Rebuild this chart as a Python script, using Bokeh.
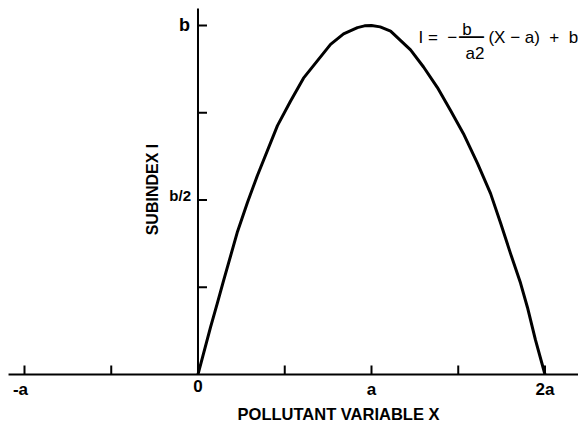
import math
from bokeh.plotting import figure
from bokeh.models import Label, Range1d
from bokeh.embed import file_html
from bokeh.resources import INLINE

# Curve (X in units of a, I in units of b)
curve_x = [0.0, 0.072, 0.112, 0.147, 0.228, 0.285, 0.343, 0.458, 0.533, 0.608,
           0.764, 0.839, 0.919, 0.960, 1.0, 1.050, 1.110, 1.225, 1.300, 1.380,
           1.455, 1.530, 1.611, 1.686, 1.744, 1.801, 1.859, 1.899, 1.945, 2.0]
curve_i = [0.0, 0.135, 0.205, 0.268, 0.410, 0.493, 0.571, 0.713, 0.783, 0.849,
           0.946, 0.976, 0.994, 0.999, 1.0, 0.996, 0.984, 0.930, 0.881, 0.822,
           0.757, 0.690, 0.605, 0.519, 0.434, 0.347, 0.262, 0.192, 0.099, 0.0]

x_ticks = [-1, -0.5, 0, 0.5, 1, 1.5, 2]
x_tick_labels = ["-a", "", "0", "", "a", "", "2a"]
y_ticks = [0.25, 0.5, 0.75, 1.0]
y_tick_labels = ["", "b/2", "", "b"]

# extent of the drawn axes
X_MIN, X_MAX = -1.092, 2.193
Y_MAX = 1.049

FONT = "Liberation Sans"
NB = "\u00a0"

p = figure(width=578, height=424, output_backend="svg", toolbar_location=None,
           x_range=Range1d(-1.1383, 2.1931), y_range=Range1d(-0.1433, 1.0716),
           x_axis_location=None, y_axis_location=None,
           min_border_left=0, min_border_right=0, min_border_top=0, min_border_bottom=0)
p.outline_line_color = None
p.grid.visible = False
p.background_fill_color = "white"
p.border_fill_color = "white"

# axes lines
p.segment(x0=[X_MIN, 0], y0=[0, 0], x1=[X_MAX, 0], y1=[0, Y_MAX],
          line_color="black", line_width=2)
# x ticks (pointing up) and y ticks (pointing right)
p.ray(x=x_ticks, y=[0] * len(x_ticks), length=9, length_units="screen",
      angle=math.pi / 2, line_color="black", line_width=2)
p.ray(x=[0] * len(y_ticks), y=y_ticks, length=9, length_units="screen", angle=0,
      line_color="black", line_width=2)

for xv, lab in zip(x_ticks, x_tick_labels):
    if not lab:
        continue
    p.add_layout(Label(x=xv, y=0, text=lab, x_offset=-4 if lab == "-a" else 0,
                       y_offset=-6, text_align="center", text_baseline="top",
                       text_font=FONT, text_font_style="bold", text_color="black",
                       text_font_size="17px"))

for yv, lab in zip(y_ticks, y_tick_labels):
    if not lab:
        continue
    p.add_layout(Label(x=0, y=yv, text=lab, x_offset=-8 if lab == "b" else -7,
                       y_offset=0 if lab == "b" else 4,
                       text_align="right", text_baseline="middle",
                       text_font=FONT, text_font_style="bold", text_color="black",
                       text_font_size="18px" if lab == "b" else "15px"))

# curve
p.line(curve_x, curve_i, line_color="black", line_width=3, line_join="round")

# axis titles
p.add_layout(Label(x=-0.262, y=0.530, text="SUBINDEX I", angle=math.pi / 2,
                   text_align="center", text_baseline="middle", text_font=FONT,
                   text_font_style="bold", text_font_size="16px", text_color="black"))
p.add_layout(Label(x=0.810, y=-0.113, text="POLLUTANT VARIABLE X",
                   text_align="center", text_baseline="middle", text_font=FONT,
                   text_font_style="bold", text_font_size="16.5px", text_color="black"))

# formula
fs = "17px"
p.add_layout(Label(x=1.271, y=0.965, text="I" + NB + "=" + NB + NB + "\u2212",
                   text_align="left", text_baseline="alphabetic", text_font=FONT,
                   text_font_size=fs, text_color="black"))
p.add_layout(Label(x=1.551, y=0.988, text="b", text_align="center",
                   text_baseline="alphabetic", text_font=FONT, text_font_size=fs,
                   text_color="black"))
p.add_layout(Label(x=1.576, y=0.972, text="\u2014", text_align="center",
                   text_baseline="middle", text_font=FONT, text_font_size="25px",
                   text_color="black"))
p.add_layout(Label(x=1.597, y=0.919, text="a2", text_align="center",
                   text_baseline="alphabetic", text_font=FONT, text_font_size=fs,
                   text_color="black"))
p.add_layout(Label(x=1.674, y=0.965,
                   text="(X \u2212 a)" + NB * 2 + "+" + NB * 2 + "b",
                   text_align="left", text_baseline="alphabetic", text_font=FONT,
                   text_font_size=fs, text_color="black"))

open("out.html", "w").write(file_html(p, INLINE))
